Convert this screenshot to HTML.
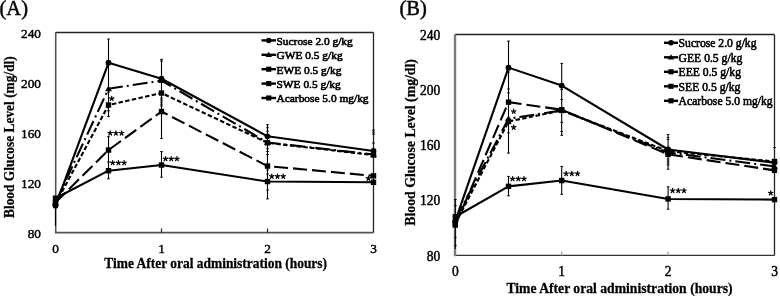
<!DOCTYPE html>
<html><head><meta charset="utf-8"><style>
html,body{margin:0;padding:0;background:#fff;}
svg{display:block;font-family:"Liberation Serif", serif;filter:grayscale(1);}
</style></head><body>
<svg width="780" height="296" viewBox="0 0 780 296">
<rect width="780" height="296" fill="#fff"/>
<g fill="#000">
<line x1="55.7" y1="32.5" x2="373.5" y2="32.5" stroke="#222" stroke-width="1.3"/>
<line x1="373.5" y1="32.5" x2="373.5" y2="232.6" stroke="#222" stroke-width="1.3"/>
<line x1="55.7" y1="232.6" x2="373.5" y2="232.6" stroke="#555" stroke-width="1.8"/>
<line x1="55.7" y1="32.2" x2="55.7" y2="233.4" stroke="#555" stroke-width="1.6"/>
<line x1="55.5" y1="205" x2="55.5" y2="226" stroke="#000" stroke-width="1.1"/>
<line x1="108.5" y1="39" x2="108.5" y2="116.5" stroke="#000" stroke-width="1.1"/>
<line x1="108.5" y1="136.6" x2="108.5" y2="178.8" stroke="#000" stroke-width="1.1"/>
<line x1="107.2" y1="39" x2="109.8" y2="39" stroke="#000" stroke-width="1"/>
<line x1="107.2" y1="90.4" x2="109.8" y2="90.4" stroke="#000" stroke-width="1"/>
<line x1="107.2" y1="92.2" x2="109.8" y2="92.2" stroke="#000" stroke-width="1"/>
<line x1="107.2" y1="110.8" x2="109.8" y2="110.8" stroke="#000" stroke-width="1"/>
<line x1="107.2" y1="116.5" x2="109.8" y2="116.5" stroke="#000" stroke-width="1"/>
<line x1="107.2" y1="136.6" x2="109.8" y2="136.6" stroke="#000" stroke-width="1"/>
<line x1="107.2" y1="161.9" x2="109.8" y2="161.9" stroke="#000" stroke-width="1"/>
<line x1="107.2" y1="178.8" x2="109.8" y2="178.8" stroke="#000" stroke-width="1"/>
<line x1="161.5" y1="59.3" x2="161.5" y2="138.5" stroke="#000" stroke-width="1.1"/>
<line x1="161.5" y1="151.6" x2="161.5" y2="177.2" stroke="#000" stroke-width="1.1"/>
<line x1="160.2" y1="59.3" x2="162.8" y2="59.3" stroke="#000" stroke-width="1"/>
<line x1="160.2" y1="61.1" x2="162.8" y2="61.1" stroke="#000" stroke-width="1"/>
<line x1="160.2" y1="98.1" x2="162.8" y2="98.1" stroke="#000" stroke-width="1"/>
<line x1="160.2" y1="100.1" x2="162.8" y2="100.1" stroke="#000" stroke-width="1"/>
<line x1="160.2" y1="102.2" x2="162.8" y2="102.2" stroke="#000" stroke-width="1"/>
<line x1="160.2" y1="104.2" x2="162.8" y2="104.2" stroke="#000" stroke-width="1"/>
<line x1="160.2" y1="106" x2="162.8" y2="106" stroke="#000" stroke-width="1"/>
<line x1="160.2" y1="138.5" x2="162.8" y2="138.5" stroke="#000" stroke-width="1"/>
<line x1="160.2" y1="151.6" x2="162.8" y2="151.6" stroke="#000" stroke-width="1"/>
<line x1="160.2" y1="177.2" x2="162.8" y2="177.2" stroke="#000" stroke-width="1"/>
<line x1="267.5" y1="124.7" x2="267.5" y2="199" stroke="#000" stroke-width="1.1"/>
<line x1="266.2" y1="124.7" x2="268.8" y2="124.7" stroke="#000" stroke-width="1"/>
<line x1="266.2" y1="127.8" x2="268.8" y2="127.8" stroke="#000" stroke-width="1"/>
<line x1="266.2" y1="131.2" x2="268.8" y2="131.2" stroke="#000" stroke-width="1"/>
<line x1="266.2" y1="148.8" x2="268.8" y2="148.8" stroke="#000" stroke-width="1"/>
<line x1="266.2" y1="151.5" x2="268.8" y2="151.5" stroke="#000" stroke-width="1"/>
<line x1="266.2" y1="154.5" x2="268.8" y2="154.5" stroke="#000" stroke-width="1"/>
<line x1="266.2" y1="170" x2="268.8" y2="170" stroke="#000" stroke-width="1"/>
<line x1="266.2" y1="174" x2="268.8" y2="174" stroke="#000" stroke-width="1"/>
<line x1="266.2" y1="190" x2="268.8" y2="190" stroke="#000" stroke-width="1"/>
<line x1="266.2" y1="198.9" x2="268.8" y2="198.9" stroke="#000" stroke-width="1"/>
<line x1="372.2" y1="130.1" x2="374.8" y2="130.1" stroke="#000" stroke-width="1"/>
<line x1="372.2" y1="132.2" x2="374.8" y2="132.2" stroke="#000" stroke-width="1"/>
<line x1="372.2" y1="134.2" x2="374.8" y2="134.2" stroke="#000" stroke-width="1"/>
<line x1="372.2" y1="143" x2="374.8" y2="143" stroke="#000" stroke-width="1"/>
<polyline points="55.5,205.71 108.5,62.76 161.5,78.77 267.5,136.3 373.5,150.93" fill="none" stroke="#000" stroke-width="2.1" stroke-linejoin="round"/>
<polyline points="55.5,202.58 108.5,88.78 161.5,80.65 267.5,142.55 373.5,154.43" fill="none" stroke="#000" stroke-width="2.1" stroke-dasharray="15 4 2 4" stroke-linejoin="round"/>
<polyline points="55.5,203.83 108.5,105.03 161.5,93.03 267.5,142.8 373.5,155.06" fill="none" stroke="#000" stroke-width="2.1" stroke-dasharray="4.5 2.3" stroke-linejoin="round"/>
<polyline points="55.5,202.58 108.5,150.06 161.5,111.54 267.5,166.06 373.5,175.82" fill="none" stroke="#000" stroke-width="2.1" stroke-dasharray="14 5" stroke-linejoin="round"/>
<polyline points="55.5,198.2 108.5,170.69 161.5,165.06 267.5,181.57 373.5,182.32" fill="none" stroke="#000" stroke-width="2.1" stroke-linejoin="round"/>
<circle cx="55.5" cy="205.71" r="2.9"/>
<circle cx="108.5" cy="62.76" r="2.9"/>
<circle cx="161.5" cy="78.77" r="2.9"/>
<circle cx="267.5" cy="136.3" r="2.9"/>
<circle cx="373.5" cy="150.93" r="2.9"/>
<path d="M52.1 204.98L55.5 199.28L58.9 204.98Z"/>
<path d="M105.1 91.18L108.5 85.48L111.9 91.18Z"/>
<path d="M158.1 83.05L161.5 77.35L164.9 83.05Z"/>
<path d="M264.1 144.95L267.5 139.25L270.9 144.95Z"/>
<path d="M370.1 156.83L373.5 151.13L376.9 156.83Z"/>
<rect x="52.8" y="201.13" width="5.4" height="5.4"/>
<rect x="105.8" y="102.33" width="5.4" height="5.4"/>
<rect x="158.8" y="90.33" width="5.4" height="5.4"/>
<rect x="264.8" y="140.1" width="5.4" height="5.4"/>
<rect x="370.8" y="152.36" width="5.4" height="5.4"/>
<rect x="52.8" y="199.88" width="5.4" height="5.4"/>
<rect x="105.8" y="147.36" width="5.4" height="5.4"/>
<rect x="158.8" y="108.84" width="5.4" height="5.4"/>
<rect x="264.8" y="163.36" width="5.4" height="5.4"/>
<rect x="370.8" y="173.12" width="5.4" height="5.4"/>
<rect x="52.8" y="195.5" width="5.4" height="5.4"/>
<rect x="105.8" y="167.99" width="5.4" height="5.4"/>
<rect x="158.8" y="162.36" width="5.4" height="5.4"/>
<rect x="264.8" y="178.87" width="5.4" height="5.4"/>
<rect x="370.8" y="179.62" width="5.4" height="5.4"/>
<line x1="161.5" y1="232.6" x2="161.5" y2="228.6" stroke="#222" stroke-width="1.2"/>
<line x1="267.5" y1="232.6" x2="267.5" y2="228.6" stroke="#222" stroke-width="1.2"/>
<path d="M111.7 98.6L111.7 96.3M111.7 98.6L113.89 97.89M111.7 98.6L113.05 100.46M111.7 98.6L110.35 100.46M111.7 98.6L109.51 97.89" stroke="#000" stroke-width="1.25" stroke-linecap="round" fill="none"/>
<path d="M110.2 133.2L110.2 130.9M110.2 133.2L112.39 132.49M110.2 133.2L111.55 135.06M110.2 133.2L108.85 135.06M110.2 133.2L108.01 132.49" stroke="#000" stroke-width="1.25" stroke-linecap="round" fill="none"/>
<path d="M115.9 133.2L115.9 130.9M115.9 133.2L118.09 132.49M115.9 133.2L117.25 135.06M115.9 133.2L114.55 135.06M115.9 133.2L113.71 132.49" stroke="#000" stroke-width="1.25" stroke-linecap="round" fill="none"/>
<path d="M121.6 133.2L121.6 130.9M121.6 133.2L123.79 132.49M121.6 133.2L122.95 135.06M121.6 133.2L120.25 135.06M121.6 133.2L119.41 132.49" stroke="#000" stroke-width="1.25" stroke-linecap="round" fill="none"/>
<path d="M112.7 162.8L112.7 160.5M112.7 162.8L114.89 162.09M112.7 162.8L114.05 164.66M112.7 162.8L111.35 164.66M112.7 162.8L110.51 162.09" stroke="#000" stroke-width="1.25" stroke-linecap="round" fill="none"/>
<path d="M118.4 162.8L118.4 160.5M118.4 162.8L120.59 162.09M118.4 162.8L119.75 164.66M118.4 162.8L117.05 164.66M118.4 162.8L116.21 162.09" stroke="#000" stroke-width="1.25" stroke-linecap="round" fill="none"/>
<path d="M124.1 162.8L124.1 160.5M124.1 162.8L126.29 162.09M124.1 162.8L125.45 164.66M124.1 162.8L122.75 164.66M124.1 162.8L121.91 162.09" stroke="#000" stroke-width="1.25" stroke-linecap="round" fill="none"/>
<path d="M165.5 158.8L165.5 156.5M165.5 158.8L167.69 158.09M165.5 158.8L166.85 160.66M165.5 158.8L164.15 160.66M165.5 158.8L163.31 158.09" stroke="#000" stroke-width="1.25" stroke-linecap="round" fill="none"/>
<path d="M171.2 158.8L171.2 156.5M171.2 158.8L173.39 158.09M171.2 158.8L172.55 160.66M171.2 158.8L169.85 160.66M171.2 158.8L169.01 158.09" stroke="#000" stroke-width="1.25" stroke-linecap="round" fill="none"/>
<path d="M176.9 158.8L176.9 156.5M176.9 158.8L179.09 158.09M176.9 158.8L178.25 160.66M176.9 158.8L175.55 160.66M176.9 158.8L174.71 158.09" stroke="#000" stroke-width="1.25" stroke-linecap="round" fill="none"/>
<path d="M271.8 176.4L271.8 174.1M271.8 176.4L273.99 175.69M271.8 176.4L273.15 178.26M271.8 176.4L270.45 178.26M271.8 176.4L269.61 175.69" stroke="#000" stroke-width="1.25" stroke-linecap="round" fill="none"/>
<path d="M277.5 176.4L277.5 174.1M277.5 176.4L279.69 175.69M277.5 176.4L278.85 178.26M277.5 176.4L276.15 178.26M277.5 176.4L275.31 175.69" stroke="#000" stroke-width="1.25" stroke-linecap="round" fill="none"/>
<path d="M283.2 176.4L283.2 174.1M283.2 176.4L285.39 175.69M283.2 176.4L284.55 178.26M283.2 176.4L281.85 178.26M283.2 176.4L281.01 175.69" stroke="#000" stroke-width="1.25" stroke-linecap="round" fill="none"/>
<path d="M368.4 178.4L368.4 176.1M368.4 178.4L370.59 177.69M368.4 178.4L369.75 180.26M368.4 178.4L367.05 180.26M368.4 178.4L366.21 177.69" stroke="#000" stroke-width="1.25" stroke-linecap="round" fill="none"/>
<text transform="translate(41,238.1) scale(1,1)" font-size="13.3" text-anchor="end" stroke="#000" stroke-width="0.45">80</text>
<text transform="translate(41,188.07) scale(1,1)" font-size="13.3" text-anchor="end" stroke="#000" stroke-width="0.45">120</text>
<text transform="translate(41,138.05) scale(1,1)" font-size="13.3" text-anchor="end" stroke="#000" stroke-width="0.45">160</text>
<text transform="translate(41,88.02) scale(1,1)" font-size="13.3" text-anchor="end" stroke="#000" stroke-width="0.45">200</text>
<text transform="translate(41,38) scale(1,1)" font-size="13.3" text-anchor="end" stroke="#000" stroke-width="0.45">240</text>
<text transform="translate(55.5,253) scale(1,1)" font-size="13.3" text-anchor="middle" stroke="#000" stroke-width="0.45">0</text>
<text transform="translate(161.5,253) scale(1,1)" font-size="13.3" text-anchor="middle" stroke="#000" stroke-width="0.45">1</text>
<text transform="translate(267.5,253) scale(1,1)" font-size="13.3" text-anchor="middle" stroke="#000" stroke-width="0.45">2</text>
<text transform="translate(373.5,253) scale(1,1)" font-size="13.3" text-anchor="middle" stroke="#000" stroke-width="0.45">3</text>
<text transform="translate(215.7,267.5) scale(1,1.06)" font-size="13.45" font-weight="bold" text-anchor="middle" stroke="#000" stroke-width="0.25">Time After oral administration (hours)</text>
<text transform="translate(13.5,137.1) rotate(-90) scale(1,1.06)" font-size="13.4" font-weight="bold" text-anchor="middle" stroke="#000" stroke-width="0.25">Blood Glucose Level (mg/dl)</text>
<line x1="261.5" y1="40.4" x2="276" y2="40.4" stroke="#000" stroke-width="2.4"/>
<circle cx="268.75" cy="40.4" r="2.75"/>
<text x="276.5" y="44.7" font-size="11.4" font-weight="normal" stroke="#000" stroke-width="0.6">Sucrose 2.0 g/kg</text>
<line x1="261.5" y1="54.8" x2="276" y2="54.8" stroke="#000" stroke-width="2.4"/>
<path d="M265.52 57.08L268.75 51.66L271.98 57.08Z"/>
<text x="276.5" y="59.1" font-size="11.4" font-weight="normal" stroke="#000" stroke-width="0.6">GWE 0.5 g/kg</text>
<line x1="261.5" y1="69.2" x2="276" y2="69.2" stroke="#000" stroke-width="2.4"/>
<rect x="266.19" y="66.64" width="5.13" height="5.13"/>
<text x="276.5" y="73.5" font-size="11.4" font-weight="normal" stroke="#000" stroke-width="0.6">EWE 0.5 g/kg</text>
<line x1="261.5" y1="83.6" x2="276" y2="83.6" stroke="#000" stroke-width="2.4"/>
<rect x="266.19" y="81.03" width="5.13" height="5.13"/>
<text x="276.5" y="87.9" font-size="11.4" font-weight="normal" stroke="#000" stroke-width="0.6">SWE 0.5 g/kg</text>
<line x1="261.5" y1="98" x2="276" y2="98" stroke="#000" stroke-width="2.4"/>
<rect x="266.19" y="95.44" width="5.13" height="5.13"/>
<text x="276.5" y="102.3" font-size="11.4" font-weight="normal" stroke="#000" stroke-width="0.6">Acarbose 5.0 mg/kg</text>
<text x="-0.5" y="14.5" font-size="20.5" stroke="#000" stroke-width="0.45">(A)</text>
<line x1="455" y1="34.5" x2="774.5" y2="34.5" stroke="#222" stroke-width="1.3"/>
<line x1="774.5" y1="34.5" x2="774.5" y2="255.4" stroke="#222" stroke-width="1.3"/>
<line x1="455" y1="255.4" x2="774.5" y2="255.4" stroke="#333" stroke-width="1.4"/>
<line x1="455" y1="34.2" x2="455" y2="256.2" stroke="#7a7a7a" stroke-width="2.4"/>
<line x1="455.3" y1="199.5" x2="455.3" y2="249" stroke="#000" stroke-width="1.1"/>
<line x1="454" y1="199.5" x2="456.6" y2="199.5" stroke="#000" stroke-width="1"/>
<line x1="454" y1="205.5" x2="456.6" y2="205.5" stroke="#000" stroke-width="1"/>
<line x1="454" y1="237.3" x2="456.6" y2="237.3" stroke="#000" stroke-width="1"/>
<line x1="454" y1="245.4" x2="456.6" y2="245.4" stroke="#000" stroke-width="1"/>
<line x1="508.5" y1="41.1" x2="508.5" y2="153.1" stroke="#000" stroke-width="1.1"/>
<line x1="508.5" y1="176.4" x2="508.5" y2="195.8" stroke="#000" stroke-width="1.1"/>
<line x1="507.2" y1="41.1" x2="509.8" y2="41.1" stroke="#000" stroke-width="1"/>
<line x1="507.2" y1="71.9" x2="509.8" y2="71.9" stroke="#000" stroke-width="1"/>
<line x1="507.2" y1="89" x2="509.8" y2="89" stroke="#000" stroke-width="1"/>
<line x1="507.2" y1="92.8" x2="509.8" y2="92.8" stroke="#000" stroke-width="1"/>
<line x1="507.2" y1="132.8" x2="509.8" y2="132.8" stroke="#000" stroke-width="1"/>
<line x1="507.2" y1="153.1" x2="509.8" y2="153.1" stroke="#000" stroke-width="1"/>
<line x1="507.2" y1="176.4" x2="509.8" y2="176.4" stroke="#000" stroke-width="1"/>
<line x1="507.2" y1="195.8" x2="509.8" y2="195.8" stroke="#000" stroke-width="1"/>
<line x1="561.7" y1="63.4" x2="561.7" y2="135.3" stroke="#000" stroke-width="1.1"/>
<line x1="561.7" y1="166.4" x2="561.7" y2="194.3" stroke="#000" stroke-width="1.1"/>
<line x1="560.4" y1="63.4" x2="563" y2="63.4" stroke="#000" stroke-width="1"/>
<line x1="560.4" y1="89.5" x2="563" y2="89.5" stroke="#000" stroke-width="1"/>
<line x1="560.4" y1="99.5" x2="563" y2="99.5" stroke="#000" stroke-width="1"/>
<line x1="560.4" y1="122.3" x2="563" y2="122.3" stroke="#000" stroke-width="1"/>
<line x1="560.4" y1="131.5" x2="563" y2="131.5" stroke="#000" stroke-width="1"/>
<line x1="560.4" y1="135.3" x2="563" y2="135.3" stroke="#000" stroke-width="1"/>
<line x1="560.4" y1="166.4" x2="563" y2="166.4" stroke="#000" stroke-width="1"/>
<line x1="560.4" y1="194.3" x2="563" y2="194.3" stroke="#000" stroke-width="1"/>
<line x1="668.1" y1="134.5" x2="668.1" y2="169.2" stroke="#000" stroke-width="1.1"/>
<line x1="668.1" y1="186.8" x2="668.1" y2="209.2" stroke="#000" stroke-width="1.1"/>
<line x1="666.8" y1="134.5" x2="669.4" y2="134.5" stroke="#000" stroke-width="1"/>
<line x1="666.8" y1="137.5" x2="669.4" y2="137.5" stroke="#000" stroke-width="1"/>
<line x1="666.8" y1="139.5" x2="669.4" y2="139.5" stroke="#000" stroke-width="1"/>
<line x1="666.8" y1="159" x2="669.4" y2="159" stroke="#000" stroke-width="1"/>
<line x1="666.8" y1="161" x2="669.4" y2="161" stroke="#000" stroke-width="1"/>
<line x1="666.8" y1="163" x2="669.4" y2="163" stroke="#000" stroke-width="1"/>
<line x1="666.8" y1="165" x2="669.4" y2="165" stroke="#000" stroke-width="1"/>
<line x1="666.8" y1="169.2" x2="669.4" y2="169.2" stroke="#000" stroke-width="1"/>
<line x1="666.8" y1="186.8" x2="669.4" y2="186.8" stroke="#000" stroke-width="1"/>
<line x1="666.8" y1="209.2" x2="669.4" y2="209.2" stroke="#000" stroke-width="1"/>
<line x1="773.2" y1="147.5" x2="775.8" y2="147.5" stroke="#000" stroke-width="1"/>
<polyline points="455.3,220.88 508.5,67.63 561.7,85.58 668.1,149.5 774.5,162.62" fill="none" stroke="#000" stroke-width="2.1" stroke-linejoin="round"/>
<polyline points="455.3,219.5 508.5,118.72 561.7,110.43 668.1,152.54 774.5,166.35" fill="none" stroke="#000" stroke-width="2.1" stroke-dasharray="15 4 2 4" stroke-linejoin="round"/>
<polyline points="455.3,223.64 508.5,121.48 561.7,110.43 668.1,151.16 774.5,161.52" fill="none" stroke="#000" stroke-width="2.1" stroke-dasharray="4.5 2.3" stroke-linejoin="round"/>
<polyline points="455.3,225.02 508.5,102.15 561.7,109.74 668.1,154.34 774.5,170.35" fill="none" stroke="#000" stroke-width="2.1" stroke-dasharray="14 5" stroke-linejoin="round"/>
<polyline points="455.3,216.74 508.5,186.37 561.7,180.57 668.1,198.93 774.5,199.62" fill="none" stroke="#000" stroke-width="2.1" stroke-linejoin="round"/>
<circle cx="455.3" cy="220.88" r="2.9"/>
<circle cx="508.5" cy="67.63" r="2.9"/>
<circle cx="561.7" cy="85.58" r="2.9"/>
<circle cx="668.1" cy="149.5" r="2.9"/>
<circle cx="774.5" cy="162.62" r="2.9"/>
<path d="M451.9 221.9L455.3 216.2L458.7 221.9Z"/>
<path d="M505.1 121.12L508.5 115.42L511.9 121.12Z"/>
<path d="M558.3 112.83L561.7 107.13L565.1 112.83Z"/>
<path d="M664.7 154.94L668.1 149.24L671.5 154.94Z"/>
<path d="M771.1 168.75L774.5 163.05L777.9 168.75Z"/>
<rect x="452.6" y="220.94" width="5.4" height="5.4"/>
<rect x="505.8" y="118.78" width="5.4" height="5.4"/>
<rect x="559" y="107.73" width="5.4" height="5.4"/>
<rect x="665.4" y="148.46" width="5.4" height="5.4"/>
<rect x="771.8" y="158.82" width="5.4" height="5.4"/>
<rect x="452.6" y="222.32" width="5.4" height="5.4"/>
<rect x="505.8" y="99.45" width="5.4" height="5.4"/>
<rect x="559" y="107.04" width="5.4" height="5.4"/>
<rect x="665.4" y="151.64" width="5.4" height="5.4"/>
<rect x="771.8" y="167.65" width="5.4" height="5.4"/>
<rect x="452.6" y="214.04" width="5.4" height="5.4"/>
<rect x="505.8" y="183.67" width="5.4" height="5.4"/>
<rect x="559" y="177.87" width="5.4" height="5.4"/>
<rect x="665.4" y="196.23" width="5.4" height="5.4"/>
<rect x="771.8" y="196.92" width="5.4" height="5.4"/>
<line x1="561.7" y1="255.4" x2="561.7" y2="251.4" stroke="#999" stroke-width="1.2"/>
<line x1="668.1" y1="255.4" x2="668.1" y2="251.4" stroke="#999" stroke-width="1.2"/>
<path d="M513.7 111.5L513.7 109.2M513.7 111.5L515.89 110.79M513.7 111.5L515.05 113.36M513.7 111.5L512.35 113.36M513.7 111.5L511.51 110.79" stroke="#000" stroke-width="1.25" stroke-linecap="round" fill="none"/>
<path d="M513.7 127.4L513.7 125.1M513.7 127.4L515.89 126.69M513.7 127.4L515.05 129.26M513.7 127.4L512.35 129.26M513.7 127.4L511.51 126.69" stroke="#000" stroke-width="1.25" stroke-linecap="round" fill="none"/>
<path d="M512.6 178.8L512.6 176.5M512.6 178.8L514.79 178.09M512.6 178.8L513.95 180.66M512.6 178.8L511.25 180.66M512.6 178.8L510.41 178.09" stroke="#000" stroke-width="1.25" stroke-linecap="round" fill="none"/>
<path d="M518.3 178.8L518.3 176.5M518.3 178.8L520.49 178.09M518.3 178.8L519.65 180.66M518.3 178.8L516.95 180.66M518.3 178.8L516.11 178.09" stroke="#000" stroke-width="1.25" stroke-linecap="round" fill="none"/>
<path d="M524 178.8L524 176.5M524 178.8L526.19 178.09M524 178.8L525.35 180.66M524 178.8L522.65 180.66M524 178.8L521.81 178.09" stroke="#000" stroke-width="1.25" stroke-linecap="round" fill="none"/>
<path d="M566.1 173.7L566.1 171.4M566.1 173.7L568.29 172.99M566.1 173.7L567.45 175.56M566.1 173.7L564.75 175.56M566.1 173.7L563.91 172.99" stroke="#000" stroke-width="1.25" stroke-linecap="round" fill="none"/>
<path d="M571.8 173.7L571.8 171.4M571.8 173.7L573.99 172.99M571.8 173.7L573.15 175.56M571.8 173.7L570.45 175.56M571.8 173.7L569.61 172.99" stroke="#000" stroke-width="1.25" stroke-linecap="round" fill="none"/>
<path d="M577.5 173.7L577.5 171.4M577.5 173.7L579.69 172.99M577.5 173.7L578.85 175.56M577.5 173.7L576.15 175.56M577.5 173.7L575.31 172.99" stroke="#000" stroke-width="1.25" stroke-linecap="round" fill="none"/>
<path d="M672.6 190.7L672.6 188.4M672.6 190.7L674.79 189.99M672.6 190.7L673.95 192.56M672.6 190.7L671.25 192.56M672.6 190.7L670.41 189.99" stroke="#000" stroke-width="1.25" stroke-linecap="round" fill="none"/>
<path d="M678.3 190.7L678.3 188.4M678.3 190.7L680.49 189.99M678.3 190.7L679.65 192.56M678.3 190.7L676.95 192.56M678.3 190.7L676.11 189.99" stroke="#000" stroke-width="1.25" stroke-linecap="round" fill="none"/>
<path d="M684 190.7L684 188.4M684 190.7L686.19 189.99M684 190.7L685.35 192.56M684 190.7L682.65 192.56M684 190.7L681.81 189.99" stroke="#000" stroke-width="1.25" stroke-linecap="round" fill="none"/>
<path d="M770.7 193.1L770.7 190.8M770.7 193.1L772.89 192.39M770.7 193.1L772.05 194.96M770.7 193.1L769.35 194.96M770.7 193.1L768.51 192.39" stroke="#000" stroke-width="1.25" stroke-linecap="round" fill="none"/>
<text transform="translate(440.3,260.6) scale(1,1.1)" font-size="13.5" text-anchor="end" stroke="#000" stroke-width="0.45">80</text>
<text transform="translate(440.3,205.37) scale(1,1.1)" font-size="13.5" text-anchor="end" stroke="#000" stroke-width="0.45">120</text>
<text transform="translate(440.3,150.15) scale(1,1.1)" font-size="13.5" text-anchor="end" stroke="#000" stroke-width="0.45">160</text>
<text transform="translate(440.3,94.92) scale(1,1.1)" font-size="13.5" text-anchor="end" stroke="#000" stroke-width="0.45">200</text>
<text transform="translate(440.3,39.7) scale(1,1.1)" font-size="13.5" text-anchor="end" stroke="#000" stroke-width="0.45">240</text>
<text transform="translate(455.3,276.3) scale(1,1.1)" font-size="13.5" text-anchor="middle" stroke="#000" stroke-width="0.45">0</text>
<text transform="translate(561.7,276.3) scale(1,1.1)" font-size="13.5" text-anchor="middle" stroke="#000" stroke-width="0.45">1</text>
<text transform="translate(668.1,276.3) scale(1,1.1)" font-size="13.5" text-anchor="middle" stroke="#000" stroke-width="0.45">2</text>
<text transform="translate(774.5,276.3) scale(1,1.1)" font-size="13.5" text-anchor="middle" stroke="#000" stroke-width="0.45">3</text>
<text transform="translate(619.5,292.9) scale(1,1.06)" font-size="13.66" font-weight="bold" text-anchor="middle" stroke="#000" stroke-width="0.25">Time After oral administration (hours)</text>
<text transform="translate(414.5,142.4) rotate(-90) scale(1,1.06)" font-size="13.8" font-weight="bold" text-anchor="middle" stroke="#000" stroke-width="0.25">Blood Glucose Level (mg/dl)</text>
<line x1="664" y1="42.8" x2="678" y2="42.8" stroke="#000" stroke-width="2.4"/>
<circle cx="671" cy="42.8" r="2.75"/>
<text x="678.6" y="47.1" font-size="11.65" font-weight="normal" stroke="#000" stroke-width="0.55">Sucrose 2.0 g/kg</text>
<line x1="664" y1="57.3" x2="678" y2="57.3" stroke="#000" stroke-width="2.4"/>
<path d="M667.77 59.58L671 54.16L674.23 59.58Z"/>
<text x="678.6" y="61.6" font-size="11.65" font-weight="normal" stroke="#000" stroke-width="0.55">GEE 0.5 g/kg</text>
<line x1="664" y1="71.8" x2="678" y2="71.8" stroke="#000" stroke-width="2.4"/>
<rect x="668.43" y="69.23" width="5.13" height="5.13"/>
<text x="678.6" y="76.1" font-size="11.65" font-weight="normal" stroke="#000" stroke-width="0.55">EEE 0.5 g/kg</text>
<line x1="664" y1="86.3" x2="678" y2="86.3" stroke="#000" stroke-width="2.4"/>
<rect x="668.43" y="83.73" width="5.13" height="5.13"/>
<text x="678.6" y="90.6" font-size="11.65" font-weight="normal" stroke="#000" stroke-width="0.55">SEE 0.5 g/kg</text>
<line x1="664" y1="100.8" x2="678" y2="100.8" stroke="#000" stroke-width="2.4"/>
<rect x="668.43" y="98.23" width="5.13" height="5.13"/>
<text x="678.6" y="105.1" font-size="11.65" font-weight="normal" stroke="#000" stroke-width="0.55">Acarbose 5.0 mg/kg</text>
<text x="399.5" y="14.5" font-size="20.5" stroke="#000" stroke-width="0.45">(B)</text>
</g>
</svg>
</body></html>
